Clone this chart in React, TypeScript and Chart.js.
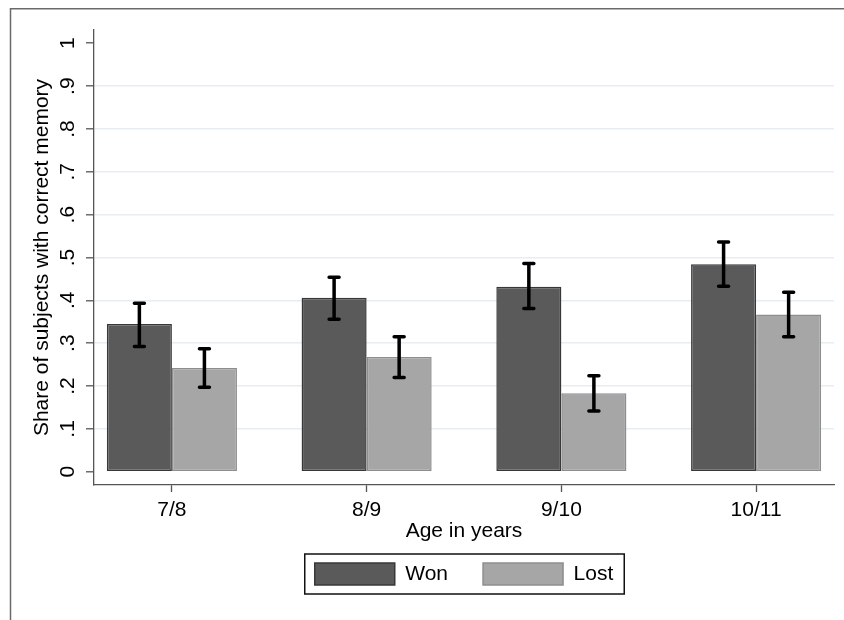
import React, { useEffect, useRef } from "react";
import { Chart, registerables } from "chart.js";

Chart.register(...registerables);

const categories = ["7/8", "8/9", "9/10", "10/11"];
const seriesNames = ["Won", "Lost"];
const wonValues = [0.345, 0.406, 0.432, 0.484];
const wonLow = [0.292, 0.356, 0.381, 0.433];
const wonHigh = [0.393, 0.454, 0.486, 0.536];
const lostValues = [0.242, 0.268, 0.183, 0.367];
const lostLow = [0.197, 0.22, 0.142, 0.315];
const lostHigh = [0.287, 0.315, 0.224, 0.419];
const yTickValues = [0, 0.1, 0.2, 0.3, 0.4, 0.5, 0.6, 0.7, 0.8, 0.9, 1];
const yTickLabels = ["0", ".1", ".2", ".3", ".4", ".5", ".6", ".7", ".8", ".9", "1"];
const xTitle = "Age in years";
const yTitle = "Share of subjects with correct memory";

const FONT = "'Liberation Sans', Arial, sans-serif";
const lows = [wonLow, lostLow];
const highs = [wonHigh, lostHigh];

const errorBarPlugin = {
  id: "errorBars",
  afterDatasetsDraw(chart: any) {
    const ctx = chart.ctx;
    const yScale = chart.scales.y;
    ctx.save();
    ctx.strokeStyle = "#000";
    ctx.lineWidth = 3.5;
    chart.data.datasets.forEach((_ds: any, d: number) => {
      const meta = chart.getDatasetMeta(d);
      meta.data.forEach((bar: any, i: number) => {
        const x = bar.x;
        const yLo = yScale.getPixelForValue(lows[d][i]);
        const yHi = yScale.getPixelForValue(highs[d][i]);
        ctx.lineCap = "butt";
        ctx.beginPath();
        ctx.moveTo(x, yLo);
        ctx.lineTo(x, yHi);
        ctx.stroke();
        ctx.lineCap = "round";
        ctx.beginPath();
        ctx.moveTo(x - 5, yLo);
        ctx.lineTo(x + 5, yLo);
        ctx.moveTo(x - 5, yHi);
        ctx.lineTo(x + 5, yHi);
        ctx.stroke();
      });
    });
    ctx.restore();
  },
};

const framePlugin = {
  id: "frameAndLegendBox",
  afterDraw(chart: any) {
    const ctx = chart.ctx;
    ctx.save();
    ctx.strokeStyle = "#6a6a6a";
    ctx.lineWidth = 1.5;
    ctx.beginPath();
    ctx.moveTo(10.5, 900);
    ctx.lineTo(10.5, 8.75);
    ctx.lineTo(900, 8.75);
    ctx.stroke();
    const lg = chart.legend;
    if (lg && lg.legendHitBoxes && lg.legendHitBoxes.length) {
      const hb = lg.legendHitBoxes;
      const first = hb[0];
      const last = hb[hb.length - 1];
      const left = first.left - 10;
      const right = last.left + last.width + 11;
      const top = first.top - 9;
      const bottom = first.top + first.height + 9;
      ctx.strokeStyle = "#111";
      ctx.lineWidth = 1.5;
      ctx.strokeRect(left, top, right - left, bottom - top);
    }
    ctx.restore();
  },
};

export default function App() {
  const canvasRef = useRef<HTMLCanvasElement | null>(null);

  useEffect(() => {
    if (!canvasRef.current) return;
    const chart = new Chart(canvasRef.current, {
      type: "bar",
      data: {
        datasets: [
          {
            label: seriesNames[0],
            data: wonValues.map((v, i) => ({ x: i, y: v })),
            backgroundColor: "#5a5a5a",
            borderColor: "#383838",
            borderWidth: 1.5,
            borderSkipped: false,
            barPercentage: 1,
            categoryPercentage: 0.668,
          },
          {
            label: seriesNames[1],
            data: lostValues.map((v, i) => ({ x: i, y: v })),
            backgroundColor: "#a6a6a6",
            borderColor: "#8e8e8e",
            borderWidth: 1.5,
            borderSkipped: false,
            barPercentage: 1,
            categoryPercentage: 0.668,
          },
        ],
      },
      options: {
        animation: false,
        responsive: true,
        maintainAspectRatio: false,
        events: [],
        layout: { padding: { left: 0, top: 30, right: 10, bottom: 25 } },
        plugins: {
          tooltip: { enabled: false },
          legend: {
            position: "bottom",
            fullSize: false,
            labels: {
              boxWidth: 80,
              boxHeight: 22,
              padding: 35,
              color: "#000",
              font: { family: FONT, size: 21 },
            },
          },
        },
        scales: {
          x: {
            type: "linear",
            offset: false,
            min: -0.4,
            max: 3.4,
            afterBuildTicks: (axis: any) => {
              axis.ticks = categories.map((_c, i) => ({ value: i }));
            },
            afterFit: (axis: any) => {
              axis.height = 43;
            },
            ticks: {
              callback: (_v: any, i: number) => categories[i],
              color: "#000",
              font: { family: FONT, size: 21 },
              padding: 5.6,
              maxRotation: 0,
              minRotation: 0,
              autoSkip: false,
            },
            grid: {
              offset: false,
              drawOnChartArea: false,
              drawTicks: true,
              tickLength: 7,
              tickColor: "#555",
              tickWidth: 1.3,
            },
            border: { color: "#555", width: 1.3 },
            title: {
              display: true,
              text: xTitle,
              color: "#000",
              font: { family: FONT, size: 21 },
              padding: { top: 0, bottom: -15.6 },
            },
          },
          y: {
            type: "linear",
            min: -0.031,
            max: 1.031,
            afterBuildTicks: (axis: any) => {
              axis.ticks = yTickValues.map((v) => ({ value: v }));
            },
            afterFit: (axis: any) => {
              axis.width = 94;
            },
            ticks: {
              callback: (_v: any, i: number) => yTickLabels[i],
              color: "#000",
              font: { family: FONT, size: 21 },
              minRotation: 90,
              maxRotation: 90,
              crossAlign: "center",
              padding: 9,
              autoSkip: false,
            },
            grid: {
              color: (c: any) =>
                c.tick && (c.tick.value === 0 || c.tick.value === 1) ? "rgba(0,0,0,0)" : "#e6eef1",
              lineWidth: 1.6,
              drawTicks: true,
              tickLength: 8,
              tickColor: "#555",
              tickWidth: 1.3,
            },
            border: { color: "#555", width: 1.3 },
            title: {
              display: true,
              text: yTitle,
              color: "#000",
              font: { family: FONT, size: 21 },
              padding: { top: 30, bottom: 0 },
            },
          },
        },
      } as any,
      plugins: [errorBarPlugin, framePlugin],
    });
    return () => chart.destroy();
  }, []);

  return (
    <div style={{ position: "absolute", left: 0, top: 0, width: 844, height: 620, background: "#fff" }}>
      <canvas ref={canvasRef} />
    </div>
  );
}
